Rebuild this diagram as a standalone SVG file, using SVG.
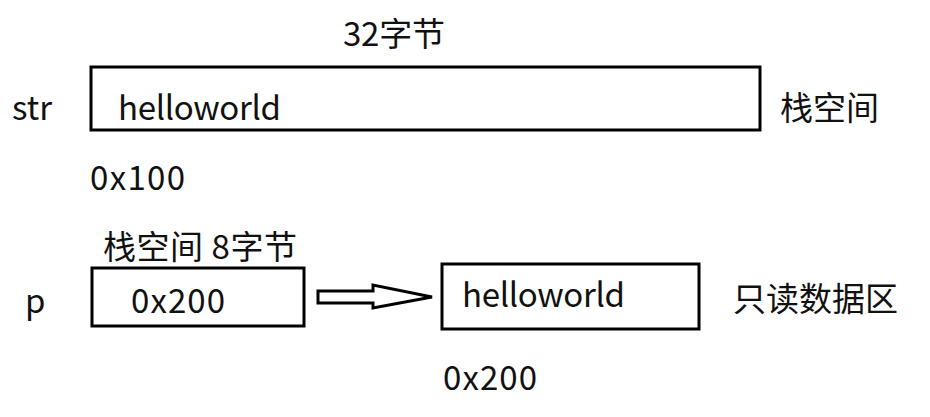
<svg xmlns="http://www.w3.org/2000/svg" width="930" height="417" viewBox="0 0 930 417">
<style>
text{font-family:"Noto Sans CJK SC","Open Sans",sans-serif;font-size:33px;fill:#111}
.box{fill:#fff;stroke:#000;stroke-width:3}
</style>
<rect width="930" height="417" fill="#fff"/>
<g id="str-node">
<text x="343" y="46" textLength="102">32字节</text>
<text x="12" y="120">str</text>
<rect class="box" x="91" y="67" width="669" height="63"/>
<text x="118" y="120" textLength="163">helloworld</text>
<text x="780" y="120">栈空间</text>
<text x="90" y="190" textLength="95">0x100</text>
</g>
<g id="p-node">
<text x="103" y="259" textLength="194">栈空间 8字节</text>
<text x="25" y="313">p</text>
<rect class="box" x="92" y="268" width="212" height="58"/>
<text x="131" y="313" textLength="94">0x200</text>
</g>
<g id="ro-node">
<rect class="box" x="442" y="264" width="257" height="65"/>
<text x="462" y="307" textLength="163">helloworld</text>
<text x="733" y="311">只读数据区</text>
<text x="443" y="390" textLength="94">0x200</text>
</g>
<g id="connectors">
<path d="M318,291 H373 V285 L432,297 L373,308 V303 H318 Z" fill="#fff" stroke="#000" stroke-width="3" stroke-linejoin="miter"/>
</g>
</svg>
